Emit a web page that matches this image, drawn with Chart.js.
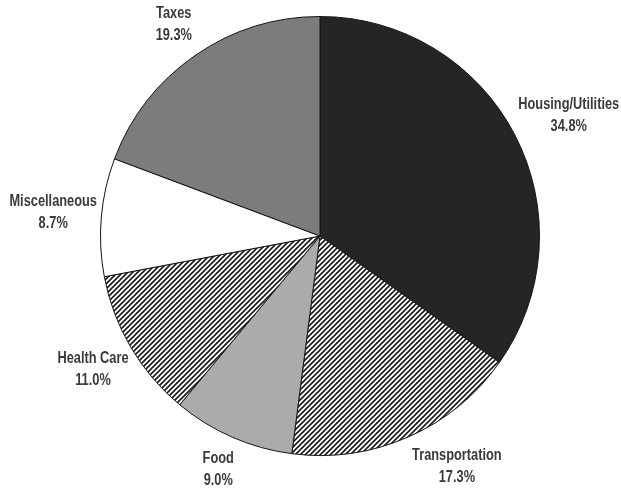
<!DOCTYPE html>
<html lang="en">
<head>
    <meta charset="UTF-8">
    <title>Spending Breakdown</title>
    <script src="https://cdn.jsdelivr.net/npm/chart.js"></script>
    <style>
        body {
            margin: 0;
            padding: 0;
            background-color: #ffffff;
            overflow: hidden;
        }
        #chart-box {
            width: 621px;
            height: 489px;
        }
    </style>
</head>
<body>
    <div id="chart-box">
        <canvas id="pie-chart"></canvas>
    </div>

    <script>
        // data, clockwise from 12 o'clock
        const categories = ['Housing/Utilities', 'Transportation', 'Food', 'Health Care', 'Miscellaneous', 'Taxes'];
        const shares = [34.8, 17.3, 9.0, 11.0, 8.7, 19.3];

        // diagonal "////" hatching like the printed chart
        function makeHatch() {
            let tile = document.createElement('canvas');
            tile.width = 5;
            tile.height = 5;
            let c = tile.getContext('2d');
            c.fillStyle = '#ffffff';
            c.fillRect(0, 0, 5, 5);
            c.strokeStyle = '#1a1a1a';
            c.lineWidth = 1.6;
            c.beginPath();
            c.moveTo(-1, 6); c.lineTo(6, -1);
            c.moveTo(-1, 1); c.lineTo(1, -1);
            c.moveTo(4, 6); c.lineTo(6, 4);
            c.stroke();
            return document.getElementById('pie-chart').getContext('2d').createPattern(tile, 'repeat');
        }
        const hatch = makeHatch();

        // label placement: radius factor and small angle nudge (degrees) per slice
        const labelPlugin = {
            id: 'sliceLabels',
            afterDraw(chart, args, opts) {
                let ctx = chart.ctx;
                let meta = chart.getDatasetMeta(0);
                meta.data.forEach((arc, i) => {
                    let p = arc.getProps(['x', 'y', 'startAngle', 'endAngle', 'outerRadius'], true);
                    let mid = (p.startAngle + p.endAngle) / 2 + opts.nudge[i] * Math.PI / 180;
                    let r = p.outerRadius * opts.radius[i];
                    let x = p.x + Math.cos(mid) * r;
                    let y = p.y + Math.sin(mid) * r;
                    ctx.save();
                    // fake a condensed face by squeezing the text horizontally
                    ctx.translate(x, y);
                    ctx.scale(0.8, 1);
                    ctx.font = 'bold 16px "Liberation Sans", Arial, sans-serif';
                    ctx.fillStyle = '#3a3a3a';
                    ctx.textAlign = 'center';
                    ctx.textBaseline = 'middle';
                    ctx.fillText(categories[i], 0, -11);
                    ctx.fillText(shares[i].toFixed(1) + '%', 0, 11);
                    ctx.restore();
                });
            }
        };

        let ctx = document.getElementById('pie-chart').getContext('2d');
        let pieChart = new Chart(ctx, {
            type: 'pie',
            data: {
                labels: categories,
                datasets: [{
                    data: shares,
                    backgroundColor: ['#252525', hatch, '#ababab', hatch, '#ffffff', '#7c7c7c'],
                    borderColor: '#151515',
                    borderWidth: 1
                }]
            },
            options: {
                responsive: true,
                maintainAspectRatio: false,
                animation: false,
                layout: {
                    padding: { top: 16, bottom: 33, left: 100, right: 81 }
                },
                plugins: {
                    legend: { display: false },
                    tooltip: { enabled: false },
                    sliceLabels: {
                        radius: [1.26, 1.22, 1.16, 1.2, 1.22, 1.17],
                        nudge: [1.5, -7, 0, 0, 0, 0]
                    }
                }
            },
            plugins: [labelPlugin]
        });
    </script>
</body>
</html>
